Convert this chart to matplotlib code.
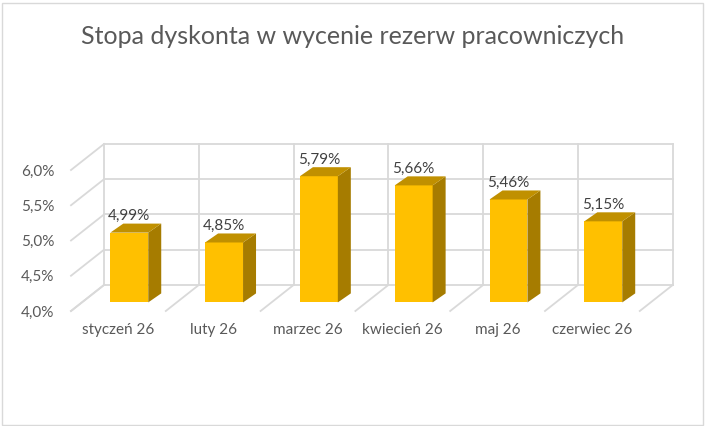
import numpy as np
import matplotlib
matplotlib.use("Agg")
import matplotlib.pyplot as plt
from matplotlib.patches import Polygon, Rectangle

months = ["styczeń 26", "luty 26", "marzec 26", "kwiecień 26", "maj 26", "czerwiec 26"]
rates = [4.99, 4.85, 5.79, 5.66, 5.46, 5.15]
ticks = [4.0, 4.5, 5.0, 5.5, 6.0]
tick_labels = ["4,0%", "4,5%", "5,0%", "5,5%", "6,0%"]
labels = ["4,99%", "4,85%", "5,79%", "5,66%", "5,46%", "5,15%"]

FRONT = "#FFC000"
TOP = "#C09000"
SIDE = "#A67C00"
GRID = "#D9D9D9"
TXT = "#595959"

plt.rcParams["font.family"] = ["Lato", "DejaVu Sans"]

# fake 3d: depth offsets in data units
DX, DY = 0.348, 0.369      # front edge -> back wall
t0 = 0.33                  # bar front face depth
BDX, BDY = 0.137, 0.128    # bar depth
w = 0.40

fig = plt.figure(figsize=(7.05, 4.26), dpi=100)
ax = fig.add_axes([71 / 705, 115 / 426, 606.7 / 705, 169.2 / 426])
ax.set_xlim(-0.5, 5.9)
ax.set_ylim(4.0, 6.4)
for s in ax.spines.values():
    s.set_visible(False)

n = len(months)
x = np.arange(n)
bounds = np.arange(n + 1) - 0.5
lo, hi = ticks[0], ticks[-1]

# back wall
for v in ticks:
    ax.plot([bounds[0] + DX, bounds[-1] + DX], [v + DY, v + DY], color=GRID, lw=1.3, clip_on=False, zorder=1)
    ax.plot([bounds[0], bounds[0] + DX], [v, v + DY], color=GRID, lw=1.3, clip_on=False, zorder=1)
for b in bounds:
    ax.plot([b + DX, b + DX], [lo + DY, hi + DY], color=GRID, lw=1.3, clip_on=False, zorder=1)
    ax.plot([b, b + DX], [lo, lo + DY], color=GRID, lw=1.3, clip_on=False, zorder=1)

# bars
xf = x + t0 * DX
base = lo + t0 * DY
vals = np.array(rates)
ax.bar(xf, vals - lo, bottom=base, width=w, color=FRONT, zorder=3)
for xi, v in zip(xf, vals):
    xr, xl = xi + w / 2, xi - w / 2
    top = v + t0 * DY
    ax.add_patch(Polygon([(xr, base), (xr + BDX, base + BDY), (xr + BDX, top + BDY), (xr, top)],
                         closed=True, facecolor=SIDE, edgecolor="none", zorder=3))
    ax.add_patch(Polygon([(xl, top), (xr, top), (xr + BDX, top + BDY), (xl + BDX, top + BDY)],
                         closed=True, facecolor=TOP, edgecolor="none", zorder=3))

for xi, v, lab in zip(xf, vals, labels):
    ax.annotate(lab, (xi, v + t0 * DY + BDY), xytext=(0, 5.5), textcoords="offset points",
                ha="center", va="center", fontsize=11, color="#404040", zorder=5)

ax.set_xticks(x)
ax.set_xticklabels(months, fontsize=11, color=TXT)
ax.set_yticks(ticks)
ax.set_yticklabels(tick_labels, fontsize=11, color=TXT)
ax.tick_params(length=0)
ax.tick_params(axis="x", pad=8.5)
ax.tick_params(axis="y", pad=12)

fig.text(353 / 705, 1 - 37 / 426, "Stopa dyskonta w wycenie rezerw pracowniczych",
         ha="center", va="center", fontsize=18, color=TXT)

fig.patches.append(Rectangle((1.5 / 705, 1.5 / 426), 701 / 705, 422 / 426, transform=fig.transFigure,
                             fill=False, edgecolor=GRID, lw=1))

fig.savefig("out.png", dpi=100)
